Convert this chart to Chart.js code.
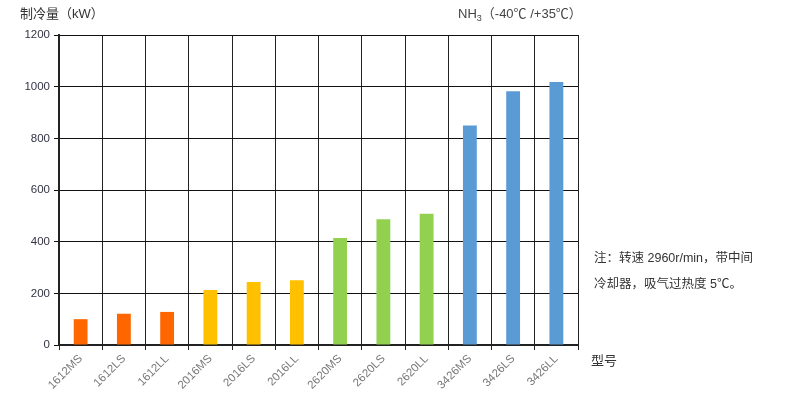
<!DOCTYPE html>
<html>
<head>
<meta charset="utf-8">
<script src="https://cdn.jsdelivr.net/npm/chart.js@4/dist/chart.umd.min.js"></script>
<style>
  body { margin: 0; background: #fff; }
  #wrap { position: relative; width: 795px; height: 396px; font-family: "Liberation Sans", "Noto Sans CJK SC", sans-serif; color: #333; }
  #wrap canvas { position: absolute; left: 0; top: 0; }
  .lbl { position: absolute; white-space: nowrap; line-height: 1; }
  sub { font-size: 9px; vertical-align: -3px; line-height: 0; }
</style>
</head>
<body>
<div id="wrap">
  <canvas id="chart" width="795" height="396"></canvas>
  <div class="lbl" style="left:20px;top:7px;font-size:13px;">制冷量（kW）</div>
  <div class="lbl" style="left:458px;top:7px;font-size:13px;color:#444;">NH<sub>3</sub>（-40℃ /+35℃）</div>
  <div class="lbl" style="left:591px;top:354px;font-size:13px;">型号</div>
  <div class="lbl" style="left:594px;top:252px;font-size:12.5px;">注：转速 2960r/min，带中间</div>
  <div class="lbl" style="left:594px;top:278px;font-size:12.5px;">冷却器，吸气过热度 5℃。</div>
</div>
<script>
const models = ['1612MS', '1612LS', '1612LL', '2016MS', '2016LS', '2016LL',
                '2620MS', '2620LS', '2620LL', '3426MS', '3426LS', '3426LL'];
const capacity = [100, 121, 128, 213, 244, 251, 414, 487, 508, 850, 982, 1018];
const yTicks = [0, 200, 400, 600, 800, 1000, 1200];

// one colour per frame size
const barColors = ['#FF6600', '#FF6600', '#FF6600', '#FFC000', '#FFC000', '#FFC000',
                   '#92D050', '#92D050', '#92D050', '#5B9BD5', '#5B9BD5', '#5B9BD5'];

const ctx = document.getElementById('chart').getContext('2d');
new Chart(ctx, {
  type: 'bar',
  data: {
    labels: models,
    datasets: [{
      data: capacity,
      backgroundColor: barColors,
      barPercentage: 0.32,
      categoryPercentage: 1
    }]
  },
  options: {
    responsive: false,
    animation: false,
    layout: { padding: { left: 0, top: 35, right: 217, bottom: 0 } },
    plugins: { legend: { display: false }, tooltip: { enabled: false } },
    scales: {
      x: {
        afterFit: s => { s.height = 51; },
        grid: { color: '#222', lineWidth: 1, tickLength: 5, offset: true },
        border: { color: '#222', width: 2 },
        ticks: {
          autoSkip: false, maxRotation: 45, minRotation: 45,
          color: '#777', padding: 2,
          font: { family: '"Liberation Sans", sans-serif', size: 11.5 }
        }
      },
      y: {
        min: 0, max: 1200,
        afterFit: s => { s.width = 59; },
        afterBuildTicks: s => { s.ticks = yTicks.map(v => ({ value: v })); },
        grid: { color: '#111', lineWidth: 1, tickLength: 5 },
        border: { color: '#222', width: 2 },
        ticks: {
          color: '#334', padding: 4,
          callback: v => String(v),
          font: { family: '"Liberation Sans", sans-serif', size: 11.5 }
        }
      }
    }
  }
});
</script>
</body>
</html>
